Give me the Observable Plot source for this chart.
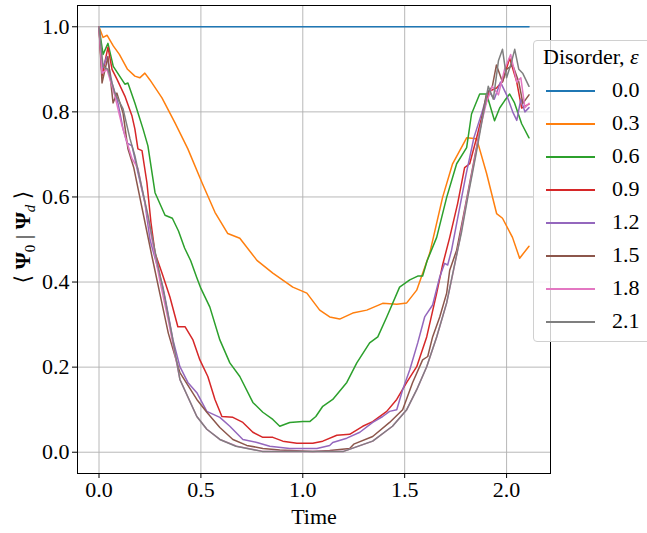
<!DOCTYPE html>
<html>
<head>
<meta charset="utf-8">
<script src="https://cdn.jsdelivr.net/npm/d3@7"></script>
<script src="https://cdn.jsdelivr.net/npm/@observablehq/plot@0.6"></script>
<style>
  html, body { margin: 0; padding: 0; background: #fff; }
  #wrap { position: relative; width: 647px; height: 533px; overflow: hidden; font-family: "Liberation Serif", "DejaVu Serif", serif; }
  #legend { position: absolute; left: 533px; top: 40px; width: 130px; height: 302px; background: rgba(255,255,255,0.8); border: 1px solid #d0d0d0; border-radius: 4px; box-sizing: border-box; }
  .lg-title { position: absolute; left: 9px; top: 3px; font-size: 22px; white-space: nowrap; }
  .lg-row { position: absolute; left: 0; height: 20px; width: 130px; }
  .lg-line { position: absolute; left: 12px; width: 49px; top: 9px; height: 2px; }
  .lg-lab { position: absolute; left: 78px; top: -4px; font-size: 22px; }
  svg text { font-family: "Liberation Serif", "DejaVu Serif", serif; }
</style>
</head>
<body>
<div id="wrap"><div id="chart"></div><div id="legend"></div></div>
<script>
// Disorder levels (legend labels) and colours
const disorderLabels = ["0.0", "0.3", "0.6", "0.9", "1.2", "1.5", "1.8", "2.1"];
const seriesColors = ["#1f77b4", "#ff7f0e", "#2ca02c", "#d62728", "#9467bd", "#8c564b", "#e377c2", "#7f7f7f"];
const xTicks = [0, 0.5, 1.0, 1.5, 2.0];
const yTicks = [0, 0.2, 0.4, 0.6, 0.8, 1.0];

// eps = 0.0
const time00 = [0, 2.11];
const fid00 = [1, 1];

// eps = 0.3
const time03 = [0, 0.02, 0.04, 0.07, 0.1, 0.14, 0.176, 0.2, 0.225, 0.25, 0.309, 0.373, 0.436, 0.505, 0.569, 0.632, 0.691, 0.775, 0.853, 0.951, 1.02, 1.083, 1.132, 1.181, 1.245, 1.314, 1.392, 1.461, 1.51, 1.559, 1.623, 1.686, 1.735, 1.804, 1.853, 1.902, 1.951, 1.98, 2.029, 2.064, 2.11];
const fid03 = [1, 0.975, 0.98, 0.955, 0.935, 0.9, 0.884, 0.88, 0.891, 0.875, 0.833, 0.774, 0.713, 0.634, 0.564, 0.514, 0.503, 0.451, 0.421, 0.388, 0.374, 0.334, 0.318, 0.313, 0.327, 0.334, 0.35, 0.348, 0.351, 0.381, 0.468, 0.599, 0.678, 0.739, 0.737, 0.655, 0.561, 0.55, 0.505, 0.456, 0.484];

// eps = 0.6
const time06 = [0, 0.02, 0.044, 0.07, 0.127, 0.142, 0.176, 0.216, 0.24, 0.275, 0.324, 0.36, 0.39, 0.42, 0.45, 0.48, 0.5, 0.544, 0.593, 0.642, 0.691, 0.755, 0.804, 0.853, 0.887, 0.936, 1.0, 1.034, 1.064, 1.098, 1.147, 1.216, 1.265, 1.328, 1.368, 1.412, 1.475, 1.525, 1.564, 1.588, 1.61, 1.657, 1.706, 1.755, 1.804, 1.828, 1.868, 1.902, 1.941, 1.966, 1.99, 2.015, 2.039, 2.074, 2.11];
const fid06 = [1, 0.935, 0.961, 0.907, 0.865, 0.868, 0.821, 0.76, 0.72, 0.61, 0.557, 0.55, 0.52, 0.48, 0.45, 0.41, 0.385, 0.341, 0.264, 0.21, 0.178, 0.117, 0.094, 0.077, 0.061, 0.07, 0.072, 0.072, 0.084, 0.108, 0.124, 0.164, 0.21, 0.257, 0.271, 0.318, 0.388, 0.405, 0.414, 0.414, 0.45, 0.505, 0.599, 0.678, 0.716, 0.795, 0.842, 0.842, 0.779, 0.809, 0.826, 0.842, 0.821, 0.772, 0.739];

// eps = 0.9
const time09 = [0, 0.015, 0.044, 0.064, 0.088, 0.127, 0.162, 0.176, 0.191, 0.211, 0.235, 0.255, 0.275, 0.309, 0.348, 0.387, 0.422, 0.461, 0.495, 0.534, 0.569, 0.603, 0.657, 0.706, 0.755, 0.804, 0.853, 0.902, 0.971, 1.049, 1.098, 1.167, 1.23, 1.294, 1.343, 1.412, 1.461, 1.51, 1.559, 1.608, 1.657, 1.686, 1.721, 1.76, 1.794, 1.819, 1.853, 1.882, 1.917, 1.951, 1.98, 2.015, 2.049, 2.074, 2.11];
const fid09 = [1, 0.884, 0.952, 0.9, 0.877, 0.837, 0.79, 0.76, 0.713, 0.709, 0.634, 0.54, 0.468, 0.421, 0.365, 0.295, 0.295, 0.264, 0.217, 0.178, 0.124, 0.084, 0.082, 0.07, 0.047, 0.035, 0.035, 0.026, 0.021, 0.021, 0.026, 0.04, 0.042, 0.061, 0.072, 0.096, 0.124, 0.164, 0.201, 0.271, 0.374, 0.44, 0.505, 0.585, 0.669, 0.678, 0.739, 0.795, 0.849, 0.856, 0.872, 0.926, 0.872, 0.809, 0.818];

// eps = 1.2
const time12 = [0, 0.015, 0.039, 0.064, 0.093, 0.118, 0.137, 0.162, 0.191, 0.225, 0.25, 0.314, 0.333, 0.363, 0.397, 0.436, 0.48, 0.529, 0.593, 0.642, 0.706, 0.775, 0.838, 0.936, 1.069, 1.132, 1.147, 1.216, 1.28, 1.343, 1.392, 1.426, 1.461, 1.49, 1.525, 1.564, 1.598, 1.637, 1.672, 1.696, 1.711, 1.73, 1.76, 1.8, 1.84, 1.88, 1.91, 1.94, 1.97, 2.0, 2.03, 2.05, 2.07, 2.09, 2.11];
const fid12 = [1, 0.9, 0.93, 0.868, 0.821, 0.76, 0.727, 0.72, 0.657, 0.587, 0.5, 0.388, 0.341, 0.264, 0.201, 0.164, 0.14, 0.096, 0.082, 0.061, 0.03, 0.023, 0.014, 0.009, 0.009, 0.016, 0.023, 0.033, 0.047, 0.07, 0.084, 0.096, 0.1, 0.147, 0.194, 0.257, 0.318, 0.346, 0.412, 0.444, 0.44, 0.475, 0.55, 0.65, 0.74, 0.8, 0.85, 0.83, 0.87, 0.84, 0.8, 0.78, 0.83, 0.8, 0.81];

// eps = 1.5
const time15 = [0, 0.015, 0.044, 0.069, 0.088, 0.118, 0.142, 0.17, 0.2, 0.23, 0.26, 0.3, 0.34, 0.397, 0.48, 0.529, 0.593, 0.657, 0.725, 0.804, 0.887, 1.049, 1.132, 1.23, 1.25, 1.343, 1.426, 1.49, 1.539, 1.588, 1.613, 1.637, 1.672, 1.706, 1.721, 1.755, 1.79, 1.83, 1.87, 1.9, 1.93, 1.95, 1.98, 2.0, 2.03, 2.06, 2.08, 2.11];
const fid15 = [1, 0.868, 0.93, 0.821, 0.844, 0.797, 0.713, 0.67, 0.6, 0.53, 0.46, 0.37, 0.28, 0.187, 0.124, 0.094, 0.058, 0.03, 0.016, 0.009, 0.005, 0.002, 0.004, 0.009, 0.019, 0.037, 0.07, 0.1, 0.164, 0.217, 0.225, 0.271, 0.318, 0.374, 0.428, 0.475, 0.56, 0.66, 0.76, 0.84, 0.86, 0.91, 0.87, 0.9, 0.91, 0.87, 0.82, 0.84];

// eps = 1.8
const time18 = [0, 0.015, 0.039, 0.078, 0.113, 0.162, 0.191, 0.225, 0.26, 0.3, 0.34, 0.397, 0.48, 0.529, 0.593, 0.676, 0.804, 1.2, 1.343, 1.44, 1.51, 1.559, 1.608, 1.657, 1.706, 1.74, 1.77, 1.8, 1.84, 1.87, 1.9, 1.93, 1.96, 1.99, 2.02, 2.05, 2.07, 2.09, 2.11];
const fid18 = [1, 0.891, 0.9, 0.837, 0.767, 0.69, 0.667, 0.587, 0.5, 0.4, 0.31, 0.171, 0.084, 0.054, 0.03, 0.014, 0.002, 0.002, 0.026, 0.061, 0.1, 0.147, 0.201, 0.271, 0.351, 0.428, 0.5, 0.58, 0.68, 0.76, 0.82, 0.86, 0.84, 0.9, 0.935, 0.87, 0.88, 0.81, 0.82];

// eps = 2.1
const time21 = [0, 0.02, 0.044, 0.078, 0.118, 0.152, 0.176, 0.211, 0.24, 0.28, 0.32, 0.36, 0.397, 0.48, 0.529, 0.593, 0.672, 0.8, 1.2, 1.343, 1.44, 1.51, 1.559, 1.608, 1.657, 1.706, 1.74, 1.78, 1.81, 1.85, 1.88, 1.91, 1.935, 1.96, 1.98, 2.0, 2.02, 2.04, 2.06, 2.08, 2.11];
const fid21 = [1, 0.907, 0.9, 0.844, 0.807, 0.737, 0.697, 0.62, 0.557, 0.46, 0.37, 0.27, 0.171, 0.084, 0.054, 0.03, 0.014, 0.002, 0.002, 0.026, 0.061, 0.1, 0.147, 0.201, 0.271, 0.351, 0.43, 0.52, 0.6, 0.7, 0.78, 0.86, 0.83, 0.92, 0.947, 0.88, 0.91, 0.947, 0.9, 0.89, 0.86];

const seriesTimes = [time00, time03, time06, time09, time12, time15, time18, time21];
const seriesFid = [fid00, fid03, fid06, fid09, fid12, fid15, fid18, fid21];

const data = disorderLabels.flatMap((lab, k) =>
  seriesTimes[k].map((t, i) => ({ t, v: seriesFid[k][i], eps: lab }))
);

const font = '"Liberation Serif", "DejaVu Serif", serif';

const chart = Plot.plot({
  width: 647,
  height: 533,
  marginLeft: 77,
  marginRight: 97,
  marginTop: 5,
  marginBottom: 60,
  style: { fontFamily: font, fontSize: "22px", color: "#000", background: "#fff", overflow: "visible" },
  x: { domain: [-0.1055, 2.2155] },
  y: { domain: [-0.05, 1.05] },
  color: { domain: disorderLabels, range: seriesColors },
  marks: [
    Plot.gridX(xTicks, { stroke: "#b0b0b0", strokeOpacity: 1, strokeWidth: 0.9 }),
    Plot.gridY(yTicks, { stroke: "#b0b0b0", strokeOpacity: 1, strokeWidth: 0.9 }),
    Plot.lineY(data, { x: "t", y: "v", z: "eps", stroke: "eps", strokeWidth: 1.5 }),
    Plot.frame({ stroke: "#000", strokeWidth: 1 }),
    Plot.axisX(xTicks, { tickFormat: d => d.toFixed(1), tickSize: 5, tickPadding: 3, fontSize: 22, fontFamily: font,
      label: "Time", labelAnchor: "center", labelArrow: "none", labelOffset: 50 }),
    Plot.axisY(yTicks, { tickFormat: d => d.toFixed(1), tickSize: 5, tickPadding: 3, fontSize: 22, fontFamily: font, label: null })
  ]
});
document.getElementById("chart").appendChild(chart);

// y-axis label with bold Psi and subscripts
const svg = d3.select(chart);
const ylab = svg.append("text")
  .attr("transform", "translate(30,237) rotate(-90)")
  .attr("text-anchor", "middle")
  .attr("font-family", font)
  .attr("font-size", 22)
  .attr("fill", "#000");
ylab.append("tspan").text("\u27E8 ");
ylab.append("tspan").attr("font-weight", "bold").text("\u03A8");
ylab.append("tspan").attr("font-size", 15).attr("dy", 5).text("0");
ylab.append("tspan").attr("dy", -5).text(" | ");
ylab.append("tspan").attr("font-weight", "bold").text("\u03A8");
ylab.append("tspan").attr("font-size", 15).attr("font-style", "italic").attr("dy", 5).text("d");
ylab.append("tspan").attr("dy", -5).text(" \u27E9");

// legend
const legend = d3.select("#legend");
const title = legend.append("div").attr("class", "lg-title");
title.append("span").text("Disorder, ");
title.append("span").style("font-style", "italic").text("\u03B5");
disorderLabels.forEach((lab, i) => {
  const row = legend.append("div").attr("class", "lg-row").style("top", (40 + i * 33) + "px");
  row.append("div").attr("class", "lg-line").style("background", seriesColors[i]);
  row.append("div").attr("class", "lg-lab").text(lab);
});
</script>
</body>
</html>
